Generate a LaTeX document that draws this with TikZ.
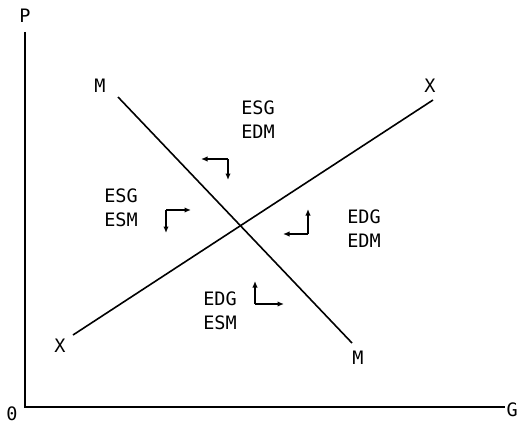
\documentclass[tikz,border=0pt]{standalone}
\usepackage{fontspec}
\setmonofont{DejaVu Sans Mono}
\usetikzlibrary{arrows.meta}
\begin{document}
\begin{tikzpicture}[x=1pt,y=-1pt,
  lbl/.style={font=\ttfamily\fontsize{18.5}{24}\selectfont, inner sep=0pt, align=center},
  ln/.style={line width=1.6pt},
  ar/.style={line width=1.5pt, -{Latex[length=6.5pt,width=5.5pt]}}]
\useasboundingbox (0,0) rectangle (518,428);
% axes
\coordinate (ytop) at (25,32);
\coordinate (org) at (25,407);
\coordinate (xend) at (505,407);
\draw[ln] (ytop) -- (org) -- (xend);
\node[lbl] (P) at (25,16) {P};
\node[lbl] (O) at (12,414) {0};
\node[lbl, anchor=east] (G) at (518,410) {G};
% lines
\coordinate (m1) at (118,97);
\coordinate (m2) at (352,343);
\coordinate (x1) at (73,335);
\coordinate (x2) at (433,100);
\draw[ln] (m1) -- (m2);
\draw[ln] (x1) -- (x2);
\node[lbl] (Mt) at (100,86) {M};
\node[lbl] (Mb) at (358,358) {M};
\node[lbl] (Xt) at (430,86) {X};
\node[lbl] (Xb) at (60,346) {X};
% region labels
\node[lbl] (r1) at (258,120) {ESG\\EDM};
\node[lbl] (r2) at (121,208) {ESG\\ESM};
\node[lbl] (r3) at (364,229) {EDG\\EDM};
\node[lbl] (r4) at (220,311) {EDG\\ESM};
% arrows
\coordinate (c1) at (228,159);
\coordinate (c1a) at (201,159);
\coordinate (c1b) at (228,180);
\draw[ar] (c1) -- (c1a);
\draw[ar] (c1) -- (c1b);
\coordinate (c2) at (166,210);
\coordinate (c2a) at (191,210);
\coordinate (c2b) at (166,233);
\draw[ar] (c2) -- (c2a);
\draw[ar] (c2) -- (c2b);
\coordinate (c3) at (308,234);
\coordinate (c3a) at (283,234);
\coordinate (c3b) at (308,209);
\draw[ar] (c3) -- (c3a);
\draw[ar] (c3) -- (c3b);
\coordinate (c4) at (255,304);
\coordinate (c4a) at (255,281);
\coordinate (c4b) at (284,304);
\draw[ar] (c4) -- (c4a);
\draw[ar] (c4) -- (c4b);
\end{tikzpicture}
\end{document}
